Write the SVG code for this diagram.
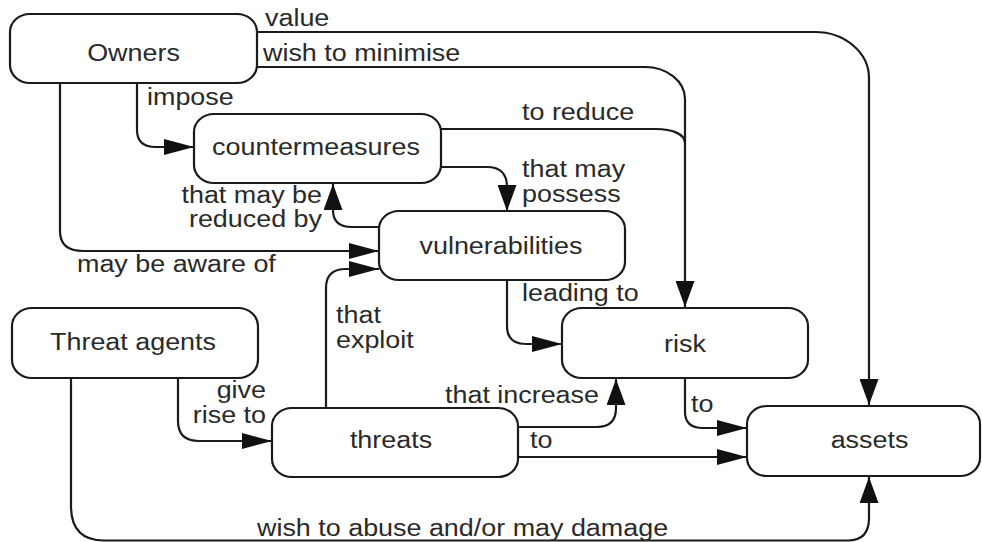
<svg xmlns="http://www.w3.org/2000/svg" width="982" height="542" viewBox="0 0 982 542">
  <style>
    .box { fill: #ffffff; stroke: #1a1a1a; stroke-width: 2.2; }
    .ln { fill: none; stroke: #1a1a1a; stroke-width: 2.2; }
    .h { marker-end: url(#ah); }
    .v { marker-end: url(#av); }
    text { font-family: "Liberation Sans", Arial, sans-serif; font-size: 23px; fill: #2a2a2a; }
    .c { text-anchor: middle; }
    .e { text-anchor: end; }
  </style>
  <defs>
    <!-- arrowhead for horizontal runs -->
    <marker id="ah" markerUnits="userSpaceOnUse" markerWidth="30" markerHeight="16" refX="30" refY="8" orient="auto">
      <path d="M0,0 L30,8 L0,16 z" fill="#111"/>
    </marker>
    <!-- arrowhead for vertical runs -->
    <marker id="av" markerUnits="userSpaceOnUse" markerWidth="26" markerHeight="19" refX="26" refY="9.5" orient="auto">
      <path d="M0,0 L26,9.5 L0,19 z" fill="#111"/>
    </marker>
  </defs>

  <g id="connectors">
    <!-- Owners: value -> assets -->
    <path class="ln v" d="M257,32 H815 A54 46 0 0 1 869,78 V405"/>
    <!-- Owners: wish to minimise -> risk -->
    <path class="ln v" d="M257,67 H645 A40 32 0 0 1 685,99 V307"/>
    <!-- countermeasures: to reduce (joins risk line) -->
    <path class="ln" d="M441,129 H656 C672,129 685,134 685,143"/>
    <!-- Owners: impose -> countermeasures -->
    <path class="ln h" d="M137,83 V130 Q137,147 156,147 H194"/>
    <!-- Owners: may be aware of -> vulnerabilities -->
    <path class="ln h" d="M60,83 V231 Q60,251 83,251 H379"/>
    <!-- vulnerabilities: that may be reduced by -> countermeasures -->
    <path class="ln v" d="M379,227 H352 Q333,227 333,210 V184"/>
    <!-- countermeasures: that may possess -> vulnerabilities -->
    <path class="ln v" d="M441,167 H487 Q507,167 507,187 V211"/>
    <!-- vulnerabilities: leading to -> risk -->
    <path class="ln h" d="M507,280 V326 Q507,344 526,344 H562"/>
    <!-- Threat agents: give rise to -> threats -->
    <path class="ln h" d="M178,378 V421 Q178,441 199,441 H272"/>
    <!-- Threat agents: wish to abuse and/or may damage -> assets -->
    <path class="ln v" d="M71,378 V506 Q71,540.5 104,540.5 H848 Q869,540.5 869,518 V477"/>
    <!-- threats: that exploit -> vulnerabilities -->
    <path class="ln h" d="M326,408 V288 Q326,269 346,269 H379"/>
    <!-- threats: that increase -> risk -->
    <path class="ln v" d="M518,427 H597 Q616,427 616,408 V379"/>
    <!-- threats: to -> assets -->
    <path class="ln h" d="M518,457 H747"/>
    <!-- risk: to -> assets -->
    <path class="ln h" d="M685,378 V412 Q685,428 703,428 H747"/>
  </g>

  <g id="owners">
    <rect class="box" x="10" y="14" width="247" height="69" rx="20" ry="18"/>
    <text class="c" transform="translate(133.5,61) scale(1.17,1)">Owners</text>
  </g>
  <g id="countermeasures">
    <rect class="box" x="194" y="114" width="247" height="69" rx="20" ry="18"/>
    <text class="c" transform="translate(316,155) scale(1.17,1)">countermeasures</text>
  </g>
  <g id="vulnerabilities">
    <rect class="box" x="379" y="211" width="246" height="69" rx="20" ry="18"/>
    <text class="c" transform="translate(501,254) scale(1.17,1)">vulnerabilities</text>
  </g>
  <g id="risk">
    <rect class="box" x="562" y="308" width="246" height="70" rx="20" ry="18"/>
    <text class="c" transform="translate(685,352) scale(1.17,1)">risk</text>
  </g>
  <g id="threat-agents">
    <rect class="box" x="12" y="308" width="246" height="70" rx="20" ry="18"/>
    <text class="c" transform="translate(133,350) scale(1.17,1)">Threat agents</text>
  </g>
  <g id="threats">
    <rect class="box" x="272" y="408" width="246" height="69" rx="20" ry="18"/>
    <text class="c" transform="translate(391,448) scale(1.17,1)">threats</text>
  </g>
  <g id="assets">
    <rect class="box" x="747" y="406" width="233" height="70" rx="20" ry="18"/>
    <text class="c" transform="translate(869.5,448) scale(1.17,1)">assets</text>
  </g>

  <g id="labels">
    <text transform="translate(265,26) scale(1.17,1)">value</text>
    <text transform="translate(263,61) scale(1.17,1)">wish to minimise</text>
    <text transform="translate(147,105) scale(1.17,1)">impose</text>
    <text transform="translate(522,120) scale(1.17,1)">to reduce</text>
    <text transform="translate(522,177) scale(1.17,1)">that may</text>
    <text transform="translate(522,202) scale(1.17,1)">possess</text>
    <text class="e" transform="translate(322,203) scale(1.17,1)">that may be</text>
    <text class="e" transform="translate(322,227) scale(1.17,1)">reduced by</text>
    <text transform="translate(77,272) scale(1.17,1)">may be aware of</text>
    <text transform="translate(522,301) scale(1.17,1)">leading to</text>
    <text transform="translate(336,323) scale(1.17,1)">that</text>
    <text transform="translate(336,348) scale(1.17,1)">exploit</text>
    <text class="e" transform="translate(266,398) scale(1.17,1)">give</text>
    <text class="e" transform="translate(266,423) scale(1.17,1)">rise to</text>
    <text transform="translate(445,403) scale(1.17,1)">that increase</text>
    <text transform="translate(691,412) scale(1.17,1)">to</text>
    <text transform="translate(530,448) scale(1.17,1)">to</text>
    <text transform="translate(257,536) scale(1.17,1)">wish to abuse and/or may damage</text>
  </g>
</svg>
